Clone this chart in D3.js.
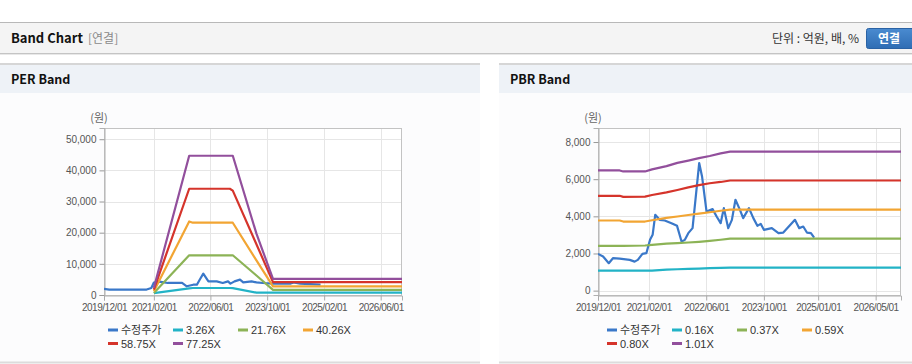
<!DOCTYPE html>
<html><head><meta charset="utf-8">
<script src="https://cdn.jsdelivr.net/npm/d3@7"></script>
<style>body{margin:0;background:#fff;overflow:hidden}svg{display:block}</style>
</head><body>
<svg id="c" width="912" height="364"></svg>
<script>
// ---------- DATA ----------
const perSeriesNames = ["수정주가", "3.26X", "21.76X", "40.26X", "58.75X", "77.25X"];
const pbrSeriesNames = ["수정주가", "0.16X", "0.37X", "0.59X", "0.80X", "1.01X"];
const seriesColors = ["#3a78c9", "#22b3c6", "#8cb356", "#f2a533", "#d5342b", "#924f9c"];

const perYTicks = [0, 10000, 20000, 30000, 40000, 50000];
const pbrYTicks = [0, 2000, 4000, 6000, 8000];
const perXTicks = ["2019-12-01", "2021-02-01", "2022-06-01", "2023-10-01", "2025-02-01", "2026-06-01"];
const pbrXTicks = ["2019-12-01", "2021-02-01", "2022-06-01", "2023-10-01", "2025-01-01", "2026-05-01"];
const xDomain = ["2019-12-01", "2026-12-01"];
const perYDomain = [0, 53600];
const pbrYDomain = [-235, 8755];

// PER chart: adjusted price
const perPriceDates = ["2019-12-01","2020-01-15","2020-12-01","2021-01-10","2021-02-01","2021-03-20","2021-06-01","2021-10-01","2021-11-10","2022-01-05","2022-02-05","2022-03-01","2022-04-01","2022-05-15","2022-07-25","2022-09-15","2022-10-30","2022-11-20","2022-12-25","2023-02-10","2023-03-10","2023-05-20","2023-07-01","2023-08-25","2023-11-20","2024-04-15","2024-05-15","2024-07-10","2025-01-01"];
const perPriceValues = [2000,1750,1750,2250,4000,4300,3860,3860,2800,3300,3300,4900,6860,4380,4380,3860,4380,3640,4380,4930,4060,4380,4060,3860,3640,3640,4060,3640,3300];

// PER chart: bands
const perBandDates = ["2021-02-01","2021-12-01","2022-01-01","2022-11-15","2022-12-10","2023-07-01","2023-11-20","2026-12-01"];
const perBand326  = [600, 2150, 2250, 2250, 2200, 750, 750, 750];
const perBand2176 = [650, 12750, 12750, 12750, 12750, 6250, 1650, 1650];
const perBand4026 = [1200, 23600, 23200, 23200, 23200, 11100, 2770, 2770];
const perBand5875 = [1750, 34100, 34100, 34100, 33500, 16300, 4150, 4150];
const perBand7725 = [2300, 44700, 44700, 44700, 44700, 19700, 5150, 5150];

// PBR chart: adjusted price
const pbrPriceDates = ["2019-12-01","2020-01-13","2020-03-01","2020-04-05","2020-06-01","2020-08-25","2020-10-05","2020-11-01","2020-12-10","2021-01-12","2021-02-12","2021-03-06","2021-03-28","2021-05-04","2021-06-16","2021-08-12","2021-09-28","2021-11-05","2021-12-03","2022-01-01","2022-02-06","2022-04-03","2022-04-27","2022-06-04","2022-07-25","2022-08-28","2022-10-01","2022-10-28","2022-12-04","2023-01-04","2023-02-03","2023-03-13","2023-04-09","2023-05-28","2023-07-04","2023-08-07","2023-09-04","2023-10-01","2023-12-07","2024-02-01","2024-03-13","2024-06-19","2024-07-25","2024-08-28","2024-09-28","2024-11-01","2024-11-28"];
const pbrPriceValues = [1980,1835,1477,1746,1725,1655,1563,1655,1978,2016,2733,3003,4081,3811,3774,3630,3488,2642,2733,3094,3364,6868,6146,4259,4388,3989,3633,4442,3364,3811,4889,4350,3903,4442,3903,3488,3596,3272,3364,3094,3127,3811,3364,3450,3127,3094,2857];

// PBR chart: bands
const pbrBandDates = ["2019-12-01","2020-06-01","2020-07-01","2021-01-01","2021-03-01","2021-07-01","2021-10-01","2022-01-01","2022-04-01","2022-07-01","2022-10-01","2022-12-20","2026-12-01"];
const pbrBand016 = [1075, 1075, 1075, 1075, 1080, 1130, 1150, 1170, 1190, 1215, 1230, 1240, 1240];
const pbrBand037 = [2410, 2410, 2410, 2430, 2460, 2530, 2560, 2590, 2630, 2680, 2740, 2800, 2800];
const pbrBand059 = [3775, 3775, 3720, 3720, 3790, 3920, 3990, 4070, 4150, 4220, 4300, 4360, 4360];
const pbrBand080 = [5105, 5105, 5050, 5060, 5150, 5290, 5420, 5560, 5680, 5780, 5850, 5930, 5930];
const pbrBand101 = [6470, 6470, 6415, 6415, 6530, 6700, 6880, 7000, 7130, 7250, 7390, 7480, 7480];

// ---------- DRAW ----------
const parse = d3.timeParse("%Y-%m-%d");
const fmtDate = d3.timeFormat("%Y/%m/%d");
const svg = d3.select("#c");
const KR = "'Noto Sans CJK KR','Noto Sans',sans-serif";
const LAT = "'Liberation Sans',Arial,sans-serif";

// top header bar
svg.append("rect").attr("x",0).attr("y",0).attr("width",912).attr("height",364).attr("fill","#fff");
svg.append("rect").attr("x",0).attr("y",22).attr("width",912).attr("height",31).attr("fill","#f4f4f4");
svg.append("line").attr("x1",0).attr("x2",912).attr("y1",22.5).attr("y2",22.5).attr("stroke","#b8b8b8");
svg.append("line").attr("x1",0).attr("x2",912).attr("y1",53.5).attr("y2",53.5).attr("stroke","#c4c4c4");
svg.append("line").attr("x1",0).attr("x2",912).attr("y1",54.5).attr("y2",54.5).attr("stroke","#e8e8e8");
svg.append("text").attr("x",11).attr("y",43).attr("font-family",KR).attr("font-weight","bold")
  .attr("font-size",13).attr("fill","#111").text("Band Chart");
svg.append("text").attr("x",88).attr("y",43).attr("font-family",KR)
  .attr("font-size",12).attr("fill","#8a8a8a").text("[연결]");
svg.append("text").attr("x",859).attr("y",43).attr("text-anchor","end").attr("font-family",KR)
  .attr("font-size",12).attr("fill","#333").text("단위 : 억원, 배, %");
const grad = svg.append("defs").append("linearGradient").attr("id","btn").attr("x1",0).attr("x2",0).attr("y1",0).attr("y2",1);
grad.append("stop").attr("offset","0%").attr("stop-color","#4a8bd0");
grad.append("stop").attr("offset","100%").attr("stop-color","#2f6db4");
svg.append("rect").attr("x",866.5).attr("y",28.5).attr("width",50).attr("height",20).attr("rx",2)
  .attr("fill","url(#btn)").attr("stroke","#2a62a4");
svg.append("text").attr("x",889).attr("y",43).attr("text-anchor","middle").attr("font-family",KR)
  .attr("font-weight","bold").attr("font-size",12).attr("fill","#fff").text("연결");

function drawPanel(cfg) {
  const g = svg.append("g");
  // panel
  g.append("rect").attr("x",cfg.px).attr("y",64).attr("width",cfg.pw).attr("height",298).attr("fill","#fcfcfd");
  g.append("rect").attr("x",cfg.px).attr("y",64).attr("width",cfg.pw).attr("height",29).attr("fill","#eef2f7");
  g.append("line").attr("x1",cfg.px).attr("x2",cfg.px+cfg.pw).attr("y1",64).attr("y2",64).attr("stroke","#d6d6d6").attr("stroke-width",2);
  g.append("line").attr("x1",cfg.px).attr("x2",cfg.px+cfg.pw).attr("y1",362.5).attr("y2",362.5).attr("stroke","#dcdcdc").attr("stroke-width",2);
  g.append("text").attr("x",cfg.px+11).attr("y",84).attr("font-family",KR).attr("font-weight","bold")
    .attr("font-size",12.5).attr("fill","#111").text(cfg.title);

  const x = d3.scaleTime().domain(xDomain.map(parse)).range([cfg.left, cfg.right]);
  const y = d3.scaleLinear().domain(cfg.yDomain).range([cfg.bottom, cfg.top]);

  g.append("rect").attr("x",cfg.left).attr("y",cfg.top).attr("width",cfg.right-cfg.left)
    .attr("height",cfg.bottom-cfg.top).attr("fill","#fff");

  // grid
  g.append("g").selectAll("line.h").data(cfg.yTicks).join("line")
    .attr("x1",cfg.left).attr("x2",cfg.right)
    .attr("y1",d=>Math.round(y(d))+0.5).attr("y2",d=>Math.round(y(d))+0.5)
    .attr("stroke","#e6e6e6");
  const xt = cfg.xTicks.map(parse);
  g.append("g").selectAll("line.v").data(xt).join("line")
    .attr("x1",d=>Math.round(x(d))+0.5).attr("x2",d=>Math.round(x(d))+0.5)
    .attr("y1",cfg.top).attr("y2",cfg.bottom)
    .attr("stroke","#e6e6e6");

  // border
  g.append("rect").attr("x",cfg.left+0.5).attr("y",cfg.top+0.5).attr("width",cfg.right-cfg.left-1)
    .attr("height",cfg.bottom-cfg.top).attr("fill","none").attr("stroke","#c3c3c3");

  // y axis
  const ya = d3.axisLeft(y).tickValues(cfg.yTicks).tickFormat(d3.format(",")).tickSize(5).tickPadding(3);
  const yg = g.append("g").attr("transform",`translate(${cfg.left+0.5},0)`).call(ya);
  yg.select(".domain").attr("stroke","#b0b0b0");
  yg.selectAll(".tick line").attr("stroke","#999");
  yg.selectAll("text").attr("font-family",LAT).attr("font-size",10).attr("fill","#555");

  // x axis
  const xa = d3.axisBottom(x).tickValues(xt).tickFormat(fmtDate).tickSize(5).tickPadding(3);
  const xg = g.append("g").attr("transform",`translate(0,${cfg.bottom+0.5})`).call(xa);
  xg.select(".domain").attr("stroke","#b0b0b0");
  xg.selectAll(".tick line").attr("stroke","#aaa");
  xg.selectAll("text").attr("font-family",LAT).attr("font-size",10).attr("letter-spacing","-0.5px").attr("fill","#555");

  // axis title
  g.append("text").attr("x",cfg.left-5).attr("y",122).attr("text-anchor","middle").attr("font-family",KR)
    .attr("font-size",11).attr("fill","#666").text("(원)");

  // series
  const line = d3.line().x(d=>x(d[0])).y(d=>y(d[1]));
  const clip = "clip" + cfg.title.replace(/\s/g,"");
  g.append("clipPath").attr("id",clip).append("rect").attr("x",cfg.left).attr("y",cfg.top)
    .attr("width",cfg.right-cfg.left).attr("height",cfg.bottom-cfg.top+2);
  const sg = g.append("g").attr("clip-path",`url(#${clip})`);
  cfg.series.forEach((s,i)=>{
    const pts = s.dates.map((d,j)=>[parse(d), s.values[j]]);
    sg.append("path").attr("d",line(pts)).attr("fill","none").attr("stroke",seriesColors[i])
      .attr("stroke-width",2.2).attr("stroke-linejoin","round");
  });

  // legend
  const lg = g.append("g");
  cfg.names.forEach((n,i)=>{
    const lx = cfg.legendX + (i%4)*65, ly = 330 + Math.floor(i/4)*13.5;
    lg.append("line").attr("x1",lx).attr("x2",lx+10).attr("y1",ly).attr("y2",ly)
      .attr("stroke",seriesColors[i]).attr("stroke-width",3);
    lg.append("text").attr("x",lx+13).attr("y",ly+4).attr("font-family",i===0?KR:LAT)
      .attr("font-size",11).attr("fill","#333").text(n);
  });
}

drawPanel({
  title:"PER Band", px:0, pw:480, left:104, right:402, top:128, bottom:295,
  yDomain:perYDomain, yTicks:perYTicks, xTicks:perXTicks, names:perSeriesNames, legendX:108,
  series:[
    {dates:perPriceDates, values:perPriceValues},
    {dates:perBandDates, values:perBand326},
    {dates:perBandDates, values:perBand2176},
    {dates:perBandDates, values:perBand4026},
    {dates:perBandDates, values:perBand5875},
    {dates:perBandDates, values:perBand7725}
  ]
});
drawPanel({
  title:"PBR Band", px:499, pw:413, left:598, right:901, top:128, bottom:295,
  yDomain:pbrYDomain, yTicks:pbrYTicks, xTicks:pbrXTicks, names:pbrSeriesNames, legendX:607,
  series:[
    {dates:pbrPriceDates, values:pbrPriceValues},
    {dates:pbrBandDates, values:pbrBand016},
    {dates:pbrBandDates, values:pbrBand037},
    {dates:pbrBandDates, values:pbrBand059},
    {dates:pbrBandDates, values:pbrBand080},
    {dates:pbrBandDates, values:pbrBand101}
  ]
});
</script>
</body></html>
